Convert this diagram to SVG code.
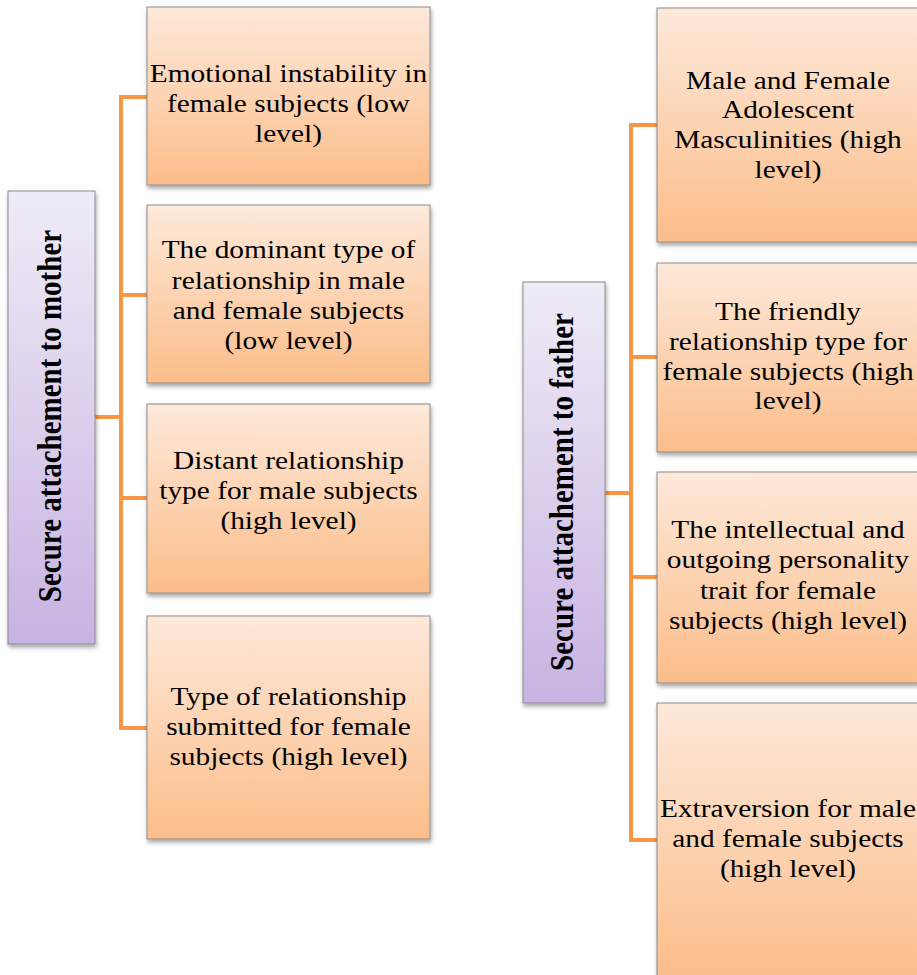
<svg xmlns="http://www.w3.org/2000/svg" width="917" height="975" viewBox="0 0 917 975">
<defs>
<linearGradient id="gOrange" x1="0" y1="0" x2="0" y2="1">
<stop offset="0" stop-color="#FEE9DA"/>
<stop offset="1" stop-color="#FBBD8A"/>
</linearGradient>
<linearGradient id="gPurple" x1="0" y1="0" x2="0" y2="1">
<stop offset="0" stop-color="#F0EBF7"/>
<stop offset="1" stop-color="#C7B3E2"/>
</linearGradient>
<filter id="sh" x="-10%" y="-10%" width="130%" height="130%">
<feDropShadow dx="1" dy="3" stdDeviation="2" flood-color="#000" flood-opacity="0.35"/>
</filter>
</defs>
<style>
.box{fill:url(#gOrange);stroke:#8C8C8C;stroke-width:1;filter:url(#sh)}
.root{fill:url(#gPurple);stroke:#8C8C8C;stroke-width:1;filter:url(#sh)}
.t{font-family:"Liberation Serif","Times New Roman",serif;font-size:26px;fill:#000;text-anchor:middle}
.rt{font-family:"Liberation Serif","Times New Roman",serif;font-size:29px;font-weight:bold;fill:#000;text-anchor:middle}
.c{fill:none;stroke:#F79646;stroke-width:4}
</style>
<g id="connectors">
<path class="c" d="M95,417 H121 V97 H147"/>
<path class="c" d="M95,417 H121 V295 H147"/>
<path class="c" d="M95,417 H121 V498 H147"/>
<path class="c" d="M95,417 H121 V728 H147"/>
<path class="c" d="M605,493 H631 V125 H657"/>
<path class="c" d="M605,493 H631 V357 H657"/>
<path class="c" d="M605,493 H631 V577 H657"/>
<path class="c" d="M605,493 H631 V840 H657"/>
</g>
<g id="mother">
<rect class="root" x="8" y="191" width="87" height="453"/>
<text class="rt" transform="translate(61,416) scale(1.13,1) rotate(-90)" x="0" y="0">Secure attachement to mother</text>
</g>
<g id="m1">
<rect class="box" x="147" y="7" width="283" height="178"/>
<g transform="translate(288.5,0) scale(1.13,1)">
<text class="t" x="0" y="82">Emotional instability in</text>
<text class="t" x="0" y="112">female subjects (low</text>
<text class="t" x="0" y="142">level)</text>
</g>
</g>
<g id="m2">
<rect class="box" x="147" y="205" width="283" height="178"/>
<g transform="translate(288.5,0) scale(1.13,1)">
<text class="t" x="0" y="258">The dominant type of</text>
<text class="t" x="0" y="289">relationship in male</text>
<text class="t" x="0" y="319">and female subjects</text>
<text class="t" x="0" y="349">(low level)</text>
</g>
</g>
<g id="m3">
<rect class="box" x="147" y="404" width="283" height="189"/>
<g transform="translate(288.5,0) scale(1.13,1)">
<text class="t" x="0" y="469">Distant relationship</text>
<text class="t" x="0" y="499">type for male subjects</text>
<text class="t" x="0" y="529">(high level)</text>
</g>
</g>
<g id="m4">
<rect class="box" x="147" y="616" width="283" height="223"/>
<g transform="translate(288.5,0) scale(1.13,1)">
<text class="t" x="0" y="705">Type of relationship</text>
<text class="t" x="0" y="735">submitted for female</text>
<text class="t" x="0" y="765">subjects (high level)</text>
</g>
</g>
<g id="father">
<rect class="root" x="523" y="282" width="82" height="421"/>
<text class="rt" transform="translate(573,492) scale(1.13,1) rotate(-90)" x="0" y="0">Secure attachement to father</text>
</g>
<g id="f1">
<rect class="box" x="657" y="8" width="262" height="234"/>
<g transform="translate(788,0) scale(1.13,1)">
<text class="t" x="0" y="89">Male and Female</text>
<text class="t" x="0" y="118">Adolescent</text>
<text class="t" x="0" y="148">Masculinities (high</text>
<text class="t" x="0" y="178">level)</text>
</g>
</g>
<g id="f2">
<rect class="box" x="657" y="263" width="262" height="189"/>
<g transform="translate(788,0) scale(1.13,1)">
<text class="t" x="0" y="320">The friendly</text>
<text class="t" x="0" y="350">relationship type for</text>
<text class="t" x="0" y="380">female subjects (high</text>
<text class="t" x="0" y="409">level)</text>
</g>
</g>
<g id="f3">
<rect class="box" x="657" y="472" width="262" height="211"/>
<g transform="translate(788,0) scale(1.13,1)">
<text class="t" x="0" y="538">The intellectual and</text>
<text class="t" x="0" y="568">outgoing personality</text>
<text class="t" x="0" y="599">trait for female</text>
<text class="t" x="0" y="629">subjects (high level)</text>
</g>
</g>
<g id="f4">
<rect class="box" x="657" y="703" width="262" height="274"/>
<g transform="translate(788,0) scale(1.13,1)">
<text class="t" x="0" y="817">Extraversion for male</text>
<text class="t" x="0" y="847">and female subjects</text>
<text class="t" x="0" y="877">(high level)</text>
</g>
</g>
</svg>
